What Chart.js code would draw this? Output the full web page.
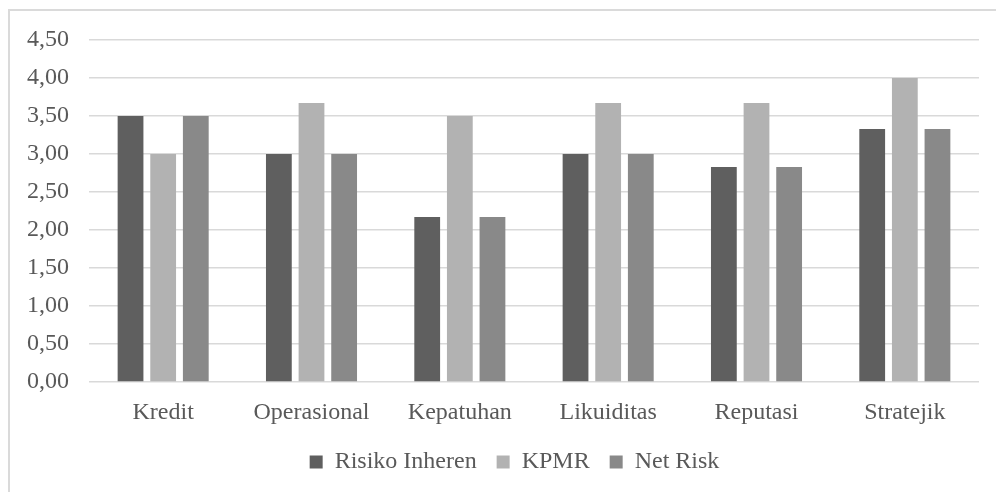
<!DOCTYPE html>
<html>
<head>
<meta charset="utf-8">
<script src="https://cdn.jsdelivr.net/npm/chart.js@4.4.1/dist/chart.umd.min.js"></script>
<style>
  html, body { margin: 0; padding: 0; background: #ffffff; }
  #wrap { position: relative; width: 996px; height: 492px; overflow: hidden; }
  #frame { position: absolute; left: 8px; top: 9px; right: 0; bottom: 0; border-top: 2px solid #dadada; border-left: 2px solid #dadada; }
  canvas { position: absolute; left: 0; top: 0; }
</style>
</head>
<body>
<div id="wrap">
  <div id="frame"></div>
  <canvas id="c" width="996" height="492"></canvas>
</div>
<script>
const categories = ['Kredit', 'Operasional', 'Kepatuhan', 'Likuiditas', 'Reputasi', 'Stratejik'];
const risikoInheren = [3.50, 3.00, 2.17, 3.00, 2.83, 3.33];
const kpmr = [3.00, 3.67, 3.50, 3.67, 3.67, 4.00];
const netRisk = [3.50, 3.00, 2.17, 3.00, 2.83, 3.33];
const yTicks = [0, 0.5, 1, 1.5, 2, 2.5, 3, 3.5, 4, 4.5];

const textColor = '#595959';
const font = { family: '"Liberation Serif", "Times New Roman", serif', size: 24 };

// plot area runs from x=89 to x=979
const PLOT_LEFT = 89;
// the legend row sits a little right of the canvas centre
const LEGEND_SHIFT = 25;

const legendShift = {
  id: 'legendShift',
  afterLayout(chart) {
    if (chart.legend) {
      chart.legend.left += LEGEND_SHIFT;
      chart.legend.right += LEGEND_SHIFT;
    }
  }
};

new Chart(document.getElementById('c'), {
  type: 'bar',
  data: {
    labels: categories,
    datasets: [
      { label: 'Risiko Inheren', data: risikoInheren, backgroundColor: '#5f5f5f' },
      { label: 'KPMR', data: kpmr, backgroundColor: '#b2b2b2' },
      { label: 'Net Risk', data: netRisk, backgroundColor: '#898989' }
    ]
  },
  plugins: [legendShift],
  options: {
    responsive: false,
    animation: false,
    devicePixelRatio: 1,
    layout: { padding: { left: 0, right: 17, top: 40, bottom: 8 } },
    datasets: { bar: { categoryPercentage: 0.66, barPercentage: 0.79 } },
    plugins: {
      tooltip: { enabled: false },
      legend: {
        position: 'bottom',
        labels: { color: textColor, font: font, boxWidth: 13, boxHeight: 13, padding: 20 }
      }
    },
    scales: {
      x: {
        afterFit: (axis) => { axis.height = 48; },
        grid: { display: false, drawTicks: false },
        border: { display: false },
        ticks: { color: textColor, font: font, padding: 16 }
      },
      y: {
        min: 0,
        max: 4.5,
        afterBuildTicks: (axis) => { axis.ticks = yTicks.map(v => ({ value: v })); },
        afterFit: (axis) => { axis.width = PLOT_LEFT; },
        grid: { color: '#d9d9d9', lineWidth: 1.5, drawTicks: false },
        border: { display: false },
        ticks: {
          color: textColor,
          font: font,
          padding: 20,
          callback: (v) => Number(v).toFixed(2).replace('.', ',')
        }
      }
    }
  }
});
</script>
</body>
</html>
